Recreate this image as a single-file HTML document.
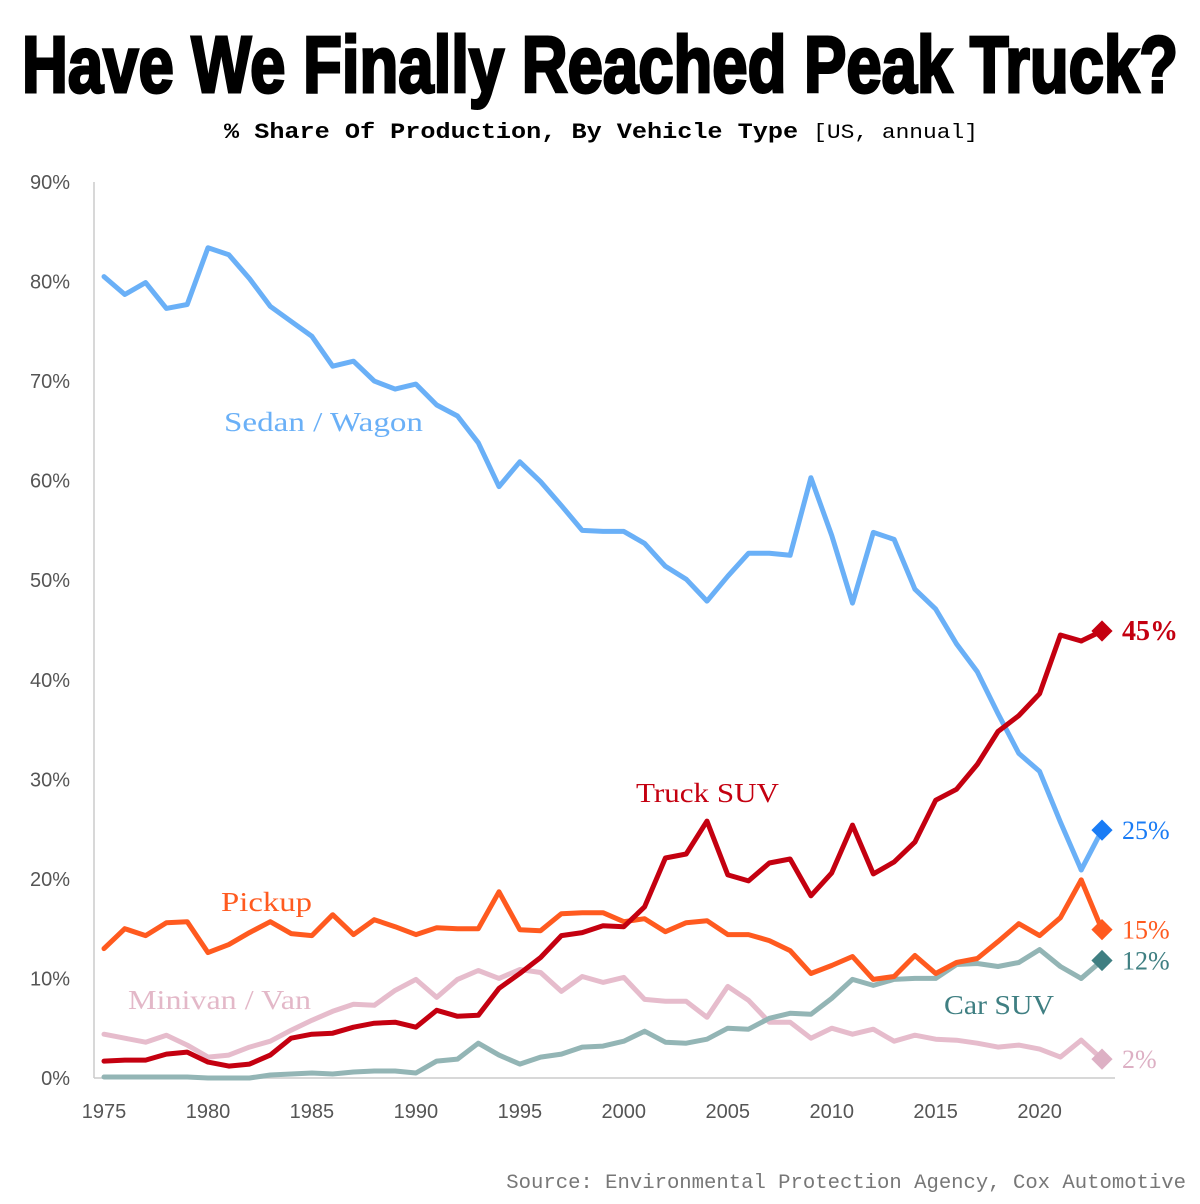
<!DOCTYPE html>
<html><head><meta charset="utf-8"><style>
body{margin:0;background:#fff;}
svg{display:block}
</style></head><body>
<svg id="chart" width="1200" height="1204" viewBox="0 0 1200 1204">
<text x="600" y="92" text-anchor="middle" font-family="'Liberation Sans Narrow','Liberation Sans',sans-serif" font-weight="bold" font-size="80" textLength="1156" lengthAdjust="spacingAndGlyphs" fill="#000" stroke="#000" stroke-width="3">Have We Finally Reached Peak Truck?</text>
<text x="224" y="138" font-family="'Liberation Mono',monospace" font-weight="bold" font-size="22" textLength="754" lengthAdjust="spacingAndGlyphs" fill="#000">% Share Of Production, By Vehicle Type <tspan font-weight="normal" font-size="20">[US, annual]</tspan></text>
<text x="1186" y="1188" text-anchor="end" font-family="'Liberation Mono',monospace" font-size="20.6" fill="#777">Source: Environmental Protection Agency, Cox Automotive</text>
<g id="axes"></g>
<g id="series"></g>
</svg>
<script>
const years=[];for(let y=1975;y<=2023;y++)years.push(y);
const sedan=[80.5,78.7,79.9,77.3,77.7,83.4,82.7,80.3,77.5,76,74.5,71.5,72,70,69.2,69.7,67.6,66.5,63.8,59.4,61.9,59.9,57.5,55,54.9,54.9,53.7,51.4,50.1,47.9,50.4,52.7,52.7,52.5,60.3,54.5,47.7,54.8,54.1,49.1,47.1,43.6,40.8,36.6,32.6,30.8,25.7,20.9,24.9];
const truckSuv=[1.7,1.8,1.8,2.4,2.6,1.6,1.2,1.4,2.3,4,4.4,4.5,5.1,5.5,5.6,5.1,6.8,6.2,6.3,9,10.5,12.1,14.3,14.6,15.3,15.2,17.2,22.1,22.5,25.8,20.4,19.8,21.6,22,18.3,20.6,25.4,20.5,21.7,23.7,27.9,29,31.5,34.8,36.4,38.6,44.5,43.9,44.9];
const pickup=[13,15,14.3,15.6,15.7,12.6,13.4,14.6,15.7,14.5,14.3,16.4,14.4,15.9,15.2,14.4,15.1,15,15,18.7,14.9,14.8,16.5,16.6,16.6,15.7,16,14.7,15.6,15.8,14.4,14.4,13.8,12.8,10.5,11.3,12.2,9.9,10.2,12.3,10.5,11.6,12,13.7,15.5,14.3,16.1,19.9,14.9];
const minivan=[4.4,4.0,3.6,4.3,3.3,2.1,2.3,3.1,3.7,4.8,5.8,6.7,7.4,7.3,8.8,9.9,8.1,9.9,10.8,10,10.9,10.6,8.7,10.2,9.6,10.1,7.9,7.7,7.7,6.1,9.2,7.8,5.6,5.6,4,5,4.4,4.9,3.7,4.3,3.9,3.8,3.5,3.1,3.3,2.9,2.1,3.8,1.9];
const carSuv=[0.1,0.1,0.1,0.1,0.1,0,0,0,0.3,0.4,0.5,0.4,0.6,0.7,0.7,0.5,1.7,1.9,3.5,2.3,1.4,2.1,2.4,3.1,3.2,3.7,4.7,3.6,3.5,3.9,5,4.9,6,6.5,6.4,8,9.9,9.3,9.9,10,10,11.4,11.5,11.2,11.6,12.9,11.2,10,11.8];
const yTicks=[0,10,20,30,40,50,60,70,80,90];
const xTicks=[1975,1980,1985,1990,1995,2000,2005,2010,2015,2020];
const NS="http://www.w3.org/2000/svg";
const X=y=>104+(y-1975)*(1102-104)/48;
const Y=v=>1078-v*(1078-182)/90;
function mk(tag,attrs,parent){const e=document.createElementNS(NS,tag);for(const k in attrs)e.setAttribute(k,attrs[k]);parent.appendChild(e);return e;}
const ax=document.getElementById('axes'),sg=document.getElementById('series');
const axisLine=mk('line',{x1:94,x2:94,y1:182,y2:1078,stroke:'#ccc','stroke-width':1.5},ax);


const xLine=mk('line',{x1:94,x2:1115,y1:1078,y2:1078,stroke:'#ccc','stroke-width':1.5},ax);


yTicks.forEach(t=>{const e=mk('text',{x:70,y:Y(t)+7,'text-anchor':'end','font-family':'Liberation Sans,sans-serif','font-size':20,fill:'#555'},ax);e.textContent=t+'%';

});
xTicks.forEach(t=>{const e=mk('text',{x:X(t),y:1118,'text-anchor':'middle','font-family':'Liberation Sans,sans-serif','font-size':20,fill:'#555'},ax);e.textContent=t;

});
const series=[
 {d:minivan,c:'#e6bccc',dc:'#ddb0c4',name:'minivan',label:'Minivan / Van',lc:'#e3b8c8',lx:128,ly:1009,end:'2%',ec:'#ddb0c4',lw:183},
 {d:carSuv,c:'#93b5b5',dc:'#3f7f82',name:'car-suv',label:'Car SUV',lc:'#3f7f82',lx:944,ly:1014,end:'12%',ec:'#3f7f82',lw:110},
 {d:pickup,c:'#ff5a1f',dc:'#ff5a1f',name:'pickup',label:'Pickup',lc:'#ff5a1f',lx:221,ly:911,end:'15%',ec:'#ff5a1f',lw:91},
 {d:sedan,c:'#6ab0f7',dc:'#1a7cf5',name:'sedan-wagon',label:'Sedan / Wagon',lc:'#6ab0f7',lx:224,ly:431,end:'25%',ec:'#1a7cf5',lw:199},
 {d:truckSuv,c:'#c40010',dc:'#c40010',name:'truck-suv',label:'Truck SUV',lc:'#c40010',lx:636,ly:802,end:'45%',ec:'#c40010',lw:143}
];
series.forEach(s=>{
 const n=s.d.length;
 const pts=s.d.slice(0,n-1).map((v,i)=>X(years[i]).toFixed(1)+','+Y(v).toFixed(1)).join(' ');
 const l=mk('polyline',{points:pts,fill:'none',stroke:s.c,'stroke-width':5,'stroke-linejoin':'round','stroke-linecap':'round'},sg);
 
 
 const seg=mk('line',{x1:X(years[n-2]),y1:Y(s.d[n-2]),x2:X(years[n-1]),y2:Y(s.d[n-1]),stroke:s.c,'stroke-width':5,'stroke-linecap':'round'},sg);
 
 
 const cx=X(years[n-1]),cy=Y(s.d[n-1]);
 const dm=mk('rect',{x:cx-7.5,y:cy-7.5,width:15,height:15,fill:s.dc,transform:`rotate(45 ${cx} ${cy})`},sg);
 
 
 const big=s.name==='truck-suv';
 const et=mk('text',{x:cx+20,y:cy+9,'font-family':'Liberation Serif,serif','font-size':big?28:26,'font-weight':big?'bold':'normal',fill:s.ec},sg);
 et.textContent=s.end;
 
 
 const lt=mk('text',{x:s.lx,y:s.ly,'font-family':'Liberation Serif,serif','font-size':27,textLength:s.lw,lengthAdjust:'spacingAndGlyphs',fill:s.lc},sg);
 lt.textContent=s.label;
 
 
});
</script>
</body></html>
